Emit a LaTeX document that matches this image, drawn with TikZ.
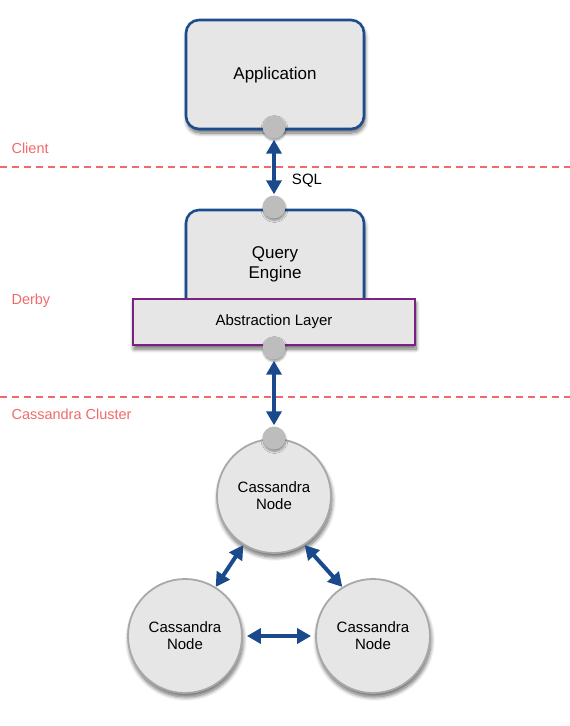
\documentclass[tikz,border=0pt]{standalone}
\usepackage{fontspec}
\setmainfont{Liberation Sans}
\usetikzlibrary{arrows.meta,shadows.blur}
\definecolor{boxfill}{HTML}{E6E6E6}
\definecolor{boxblue}{HTML}{1B4C8C}
\definecolor{layerpurple}{HTML}{7A2282}
\definecolor{portgray}{HTML}{BDBDBD}
\definecolor{nodeedge}{HTML}{A8A8A8}
\definecolor{zonered}{HTML}{F06A6A}
\definecolor{arrowblue}{HTML}{1A4A8C}
\tikzset{
  softshadow/.style={blur shadow={shadow xshift=1pt, shadow yshift=-4pt, shadow blur steps=8, shadow opacity=60, shadow blur radius=4pt}},
  smallshadow/.style={blur shadow={shadow xshift=0.5pt, shadow yshift=-2pt, shadow blur steps=5, shadow opacity=40, shadow blur radius=2pt}},
  compbox/.style={draw=boxblue, line width=2.6pt, fill=boxfill, rounded corners=13pt, softshadow},
  layerbox/.style={draw=layerpurple, line width=1.8pt, fill=boxfill, softshadow},
  port/.style={circle, fill=portgray, minimum size=23pt, inner sep=0pt, smallshadow},
  cnode/.style={circle, draw=nodeedge, line width=1.8pt, fill=boxfill, minimum size=114pt, inner sep=0pt, align=center, font=\fontsize{15}{17}\selectfont, softshadow},
  zone/.style={text=zonered, font=\fontsize{14.5}{17}\selectfont, anchor=west},
  zoneline/.style={draw=zonered, line width=1.2pt, dash pattern=on 7pt off 5pt},
  link/.style={draw=arrowblue, line width=4pt, {Triangle[length=14pt,width=15pt]}-{Triangle[length=14pt,width=15pt]}},
}
\begin{document}
\begin{tikzpicture}[x=1pt,y=-1pt]
\useasboundingbox (0,0) rectangle (570,726);

% zone separators
\draw[zoneline] (0,167) -- (570,167);
\draw[zoneline] (0,397) -- (570,397);
\node[zone] (zclient) at (8,148) {Client};
\node[zone] (zderby) at (8,301) {Derby};
\node[zone] (zcass) at (8,414) {Cassandra Cluster};

% application
\path[compbox] (186,20) rectangle (364,129);
\node[font=\fontsize{17}{20}\selectfont] (app) at (275,75) {Application};

% query engine with abstraction layer
\path[compbox] (186,210) rectangle (364,318);
\node[font=\fontsize{17}{20}\selectfont, align=center] (qe) at (275,264) {Query\\Engine};
\path[layerbox] (133,299) rectangle (415,345);
\node[font=\fontsize{15}{17}\selectfont] (abs) at (274,322) {Abstraction Layer};

% ports
\node[port] (pa) at (274,127) {};
\node[port] (pb) at (274,207) {};
\node[port] (pc) at (274,348) {};

% cassandra nodes
\node[cnode] (n1) at (274,496) {Cassandra\\Node};
\node[port] (pd) at (274,438) {};
\node[cnode] (n2) at (185,636) {Cassandra\\Node};
\node[cnode] (n3) at (373,636) {Cassandra\\Node};

% links
\draw[link, shorten <=1pt, shorten >=1pt] (pa) -- (pb);
\node[font=\fontsize{15}{17}\selectfont] (sql) at (307,181) {SQL};
\draw[link, shorten <=1pt, shorten >=1pt] (pc) -- (pd);
\draw[link, shorten <=4pt, shorten >=4pt] (n2) -- (n3);
\draw[link] (n1.-122) -- (n2.58);
\draw[link] (n1.-58) -- (n3.122);
\end{tikzpicture}
\end{document}
